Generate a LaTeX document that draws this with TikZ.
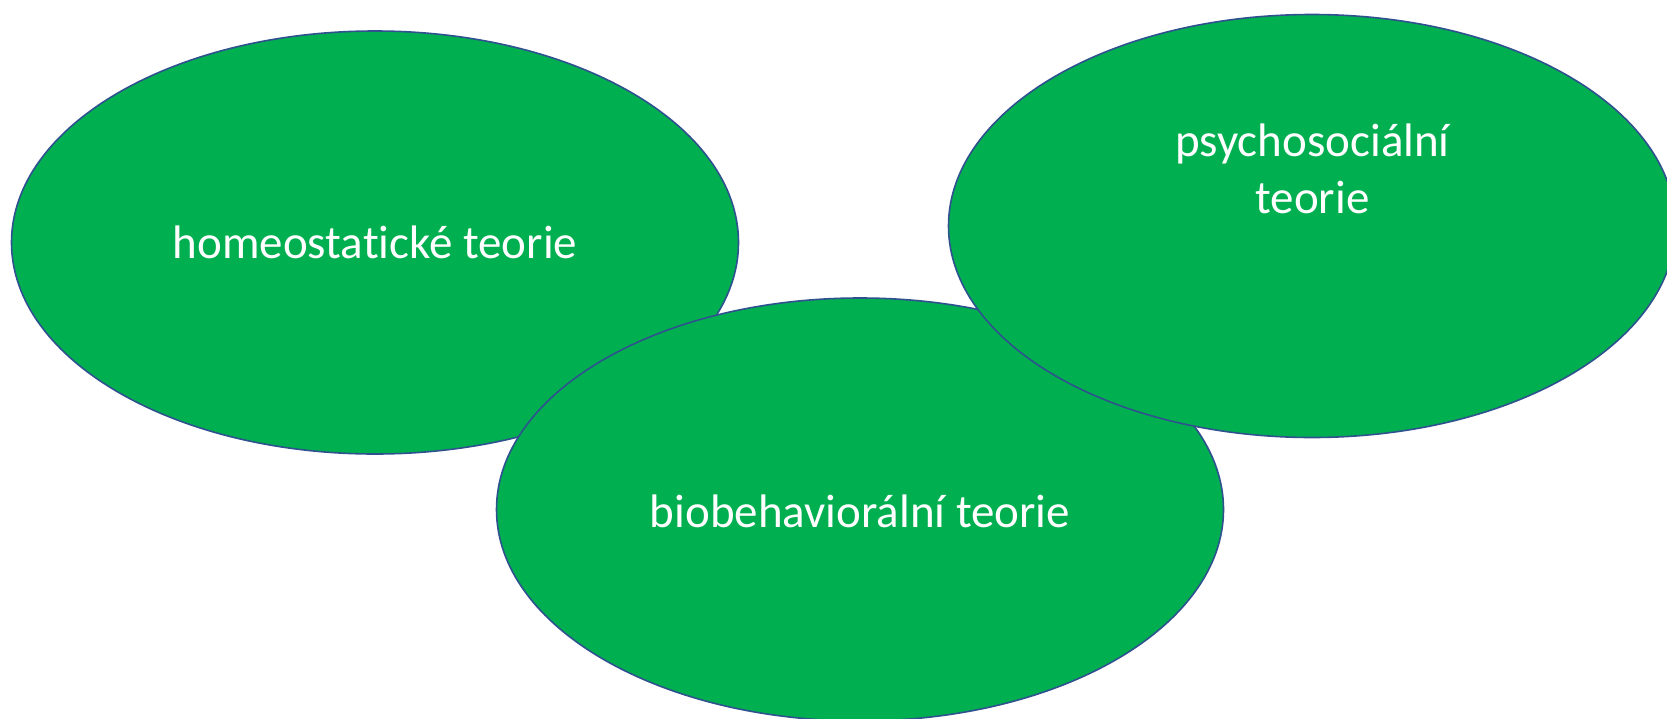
\documentclass[tikz,border=0pt]{standalone}
\usepackage{fontspec}
\setmainfont{Carlito}[Ligatures=NoCommon]
\usetikzlibrary{shapes.geometric}
\definecolor{ovalgreen}{HTML}{00B050}
\definecolor{ovalline}{HTML}{2F528F}
\tikzset{
  oval/.style={ellipse, draw=ovalline, fill=ovalgreen, line width=1.6pt, inner sep=0pt,
    minimum width=727pt, minimum height=423pt},
  ovaltext/.style={text=white, anchor=base, align=center, inner sep=0pt,
    font=\fontsize{47}{57}\selectfont}
}
\begin{document}
\begin{tikzpicture}[x=1pt,y=-1pt]
\useasboundingbox (0,0) rectangle (1667,718);
\clip (0,0) rectangle (1667,718);
\node[oval] (e1) at (375,242.5) {};
\node[ovaltext] (t1) at (375,258) {homeostatické teorie};
\node[oval] (e2) at (860,509.5) {};
\node[ovaltext] (t2) at (860,527) {biobehaviorální teorie};
\node[oval] (e3) at (1312,226) {};
\node[ovaltext] (t3) at (1312.5,213) {psychosociální\\teorie};
\end{tikzpicture}
\end{document}
